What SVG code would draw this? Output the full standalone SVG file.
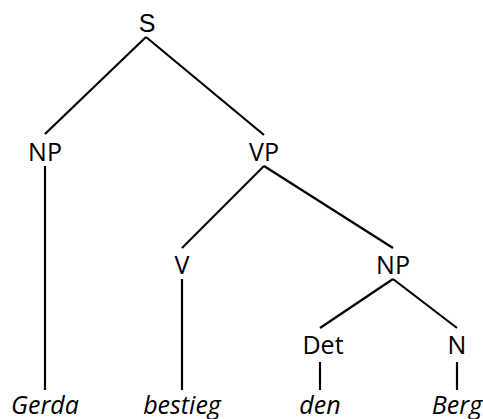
<svg xmlns="http://www.w3.org/2000/svg" width="483" height="419" viewBox="0 0 483 419">
<style>
.l{stroke:#000;stroke-width:2.2;fill:none;stroke-linecap:butt}
.t{font-family:"Open Sans","Noto Sans",sans-serif;font-size:25px;text-anchor:middle;fill:#000}
.w{font-style:italic}
.s{font-family:"Liberation Sans",Arial,sans-serif;font-size:25px}
</style>
<rect width="483" height="419" fill="#fff"/>
<g id="connectors">
<line class="l" x1="146" y1="37" x2="45" y2="134"/>
<line class="l" x1="146" y1="37" x2="264" y2="135"/>
<line class="l" x1="45" y1="166" x2="45" y2="390"/>
<line class="l" x1="264" y1="166" x2="182" y2="248"/>
<line class="l" x1="264" y1="166" x2="393" y2="248"/>
<line class="l" x1="182" y1="279" x2="182" y2="390"/>
<line class="l" x1="393" y1="279" x2="320" y2="328"/>
<line class="l" x1="393" y1="279" x2="457" y2="328"/>
<line class="l" x1="320" y1="362" x2="320" y2="390"/>
<line class="l" x1="457" y1="362" x2="457" y2="390"/>
</g>
<g id="S"><text class="t s" x="147" y="32">S</text></g>
<g id="NP1"><text class="t" x="45" y="161">NP</text></g>
<g id="VP"><text class="t" x="264" y="161">VP</text></g>
<g id="V"><text class="t" x="182" y="274">V</text></g>
<g id="NP2"><text class="t" x="393" y="274">NP</text></g>
<g id="Det"><text class="t" x="323" y="354">Det</text></g>
<g id="N"><text class="t" x="457" y="354">N</text></g>
<g id="Gerda"><text class="t w" x="45" y="414">Gerda</text></g>
<g id="bestieg"><text class="t w" x="182" y="414">bestieg</text></g>
<g id="den"><text class="t w" x="320" y="414">den</text></g>
<g id="Berg"><text class="t w" x="457" y="414">Berg</text></g>
</svg>
